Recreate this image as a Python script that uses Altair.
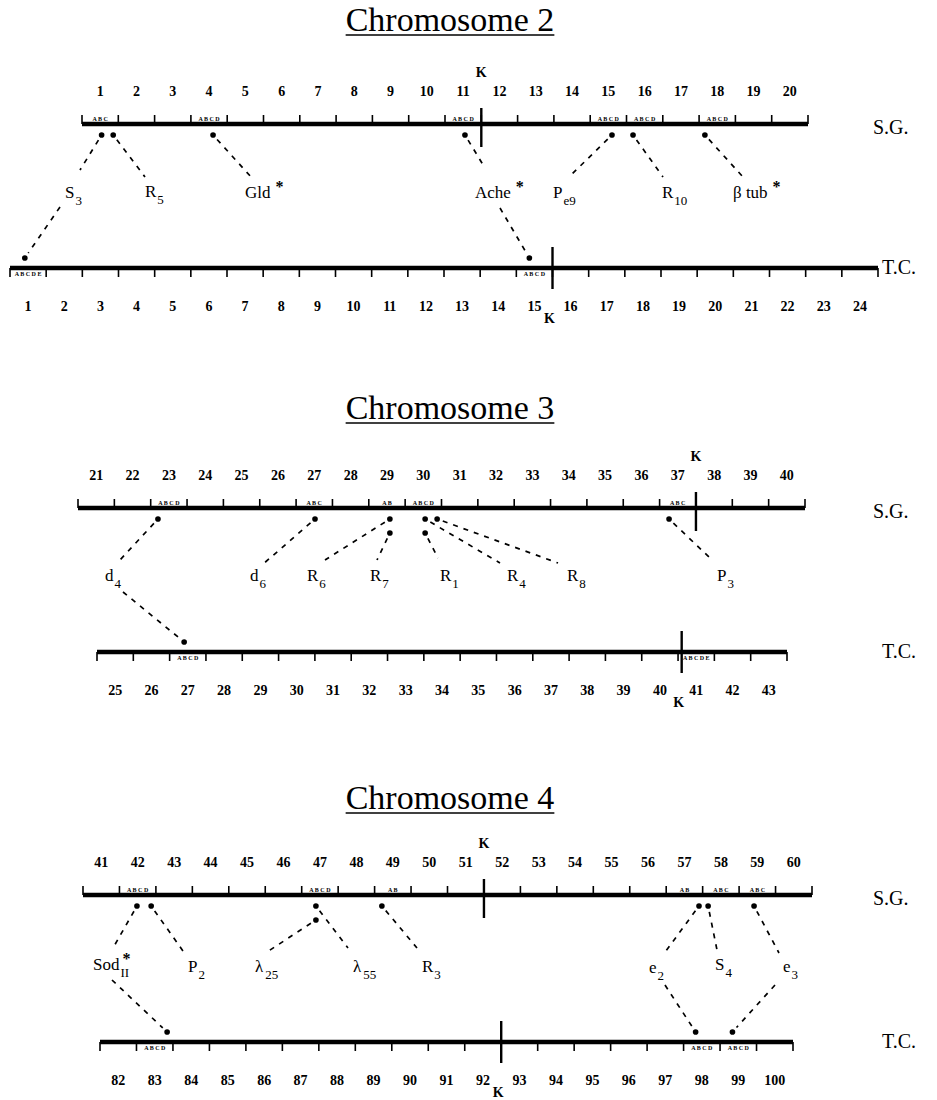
import math
import altair as alt
import pandas as pd

W, H = 937, 1100
SERIF = "Liberation Serif"

# ---------------- map rows (S.G. = salivary gland, T.C. = trichogen cell) ----
row_chrom = ["2", "2", "3", "3", "4", "4"]
row_kind = ["S.G.", "T.C.", "S.G.", "T.C.", "S.G.", "T.C."]
row_first = [1, 1, 21, 25, 41, 82]
row_last = [20, 24, 40, 43, 60, 100]
row_centromere = [12.0, 16.0, 38.0, 41.1, 52.0, 93.0]

# drawing layout of each row (page pixels)
row_x0 = [82, 10, 78, 97, 83, 100]
row_x1 = [808, 878, 805, 787, 812, 793]
row_y = [124, 268, 508, 652, 895, 1042]
title_y = [31, 419, 809]

# ---------------- subdivided bands ----------------
band_row = [0, 0, 0, 0, 0, 0, 1, 1, 2, 2, 2, 2, 2, 3, 3, 4, 4, 4, 4, 4, 4, 5, 5, 5]
band_div = [1, 4, 11, 15, 16, 18, 1, 15, 23, 27, 29, 30, 37, 27, 41,
            42, 47, 49, 57, 58, 59, 83, 98, 99]
band_text = ["ABC", "ABCD", "ABCD", "ABCD", "ABCD", "ABCD", "ABCDE", "ABCD",
             "ABCD", "ABC", "AB", "ABCD", "ABC", "ABCD", "ABCDE",
             "ABCD", "ABCD", "AB", "AB", "ABC", "ABC", "ABCD", "ABCD", "ABCD"]

# ---------------- loci ----------------
locus_main = ["S", "R", "Gld", "Ache", "P", "R", "β tub",
              "d", "d", "R", "R", "R", "R", "R", "P",
              "Sod", "P", "λ", "λ", "R", "e", "S", "e"]
locus_sub = ["3", "5", "", "", "e9", "10", "",
             "4", "6", "6", "7", "1", "4", "8", "3",
             "II", "2", "25", "55", "3", "2", "4", "3"]
locus_star = [0, 0, 1, 1, 0, 0, 1,
              0, 0, 0, 0, 0, 0, 0, 0,
              2, 0, 0, 0, 0, 0, 0, 0]
locus_sg_row = [0] * 7 + [2] * 8 + [4] * 8
locus_sg_pos = [1.54, 1.86, 4.61, 11.55, 15.6, 16.18, 18.16,
                23.2, 27.52, 29.58, 29.58, 30.55, 30.55, 30.88, 37.26,
                42.48, 42.87, 47.39, 47.39, 49.2, 57.9, 58.15, 59.41]
locus_sg_level = [0, 0, 0, 0, 0, 0, 0,
                  0, 0, 0, 1, 1, 0, 0, 0,
                  0, 0, 1, 0, 0, 0, 0, 0]
locus_tc_row = [1, None, None, 1, None, None, None,
                3, None, None, None, None, None, None, None,
                5, None, None, None, None, 5, None, 5]
locus_tc_pos = [1.41, None, None, 15.36, None, None, None,
                27.4, None, None, None, None, None, None, None,
                83.84, None, None, None, None, 98.33, None, 99.34]

# label layout: left edge / centre line of text, end of upper leader, start of lower leader
label_x = [65, 145, 245, 475, 553, 662, 733,
           105, 250, 307, 370, 440, 507, 567, 717,
           93, 188, 255, 353, 422, 649, 715, 783]
label_y = [193, 192, 193, 193, 193, 193, 193,
           576, 576, 576, 576, 576, 576, 576, 576,
           965, 967, 967, 967, 967, 968, 965, 967]
lead_top = [(80, 170), (145, 177), (252, 178), (485, 168), (570, 176), (663, 177), (743, 177),
            (120, 560), (262, 565), (325, 560), (377, 560), (438, 558), (500, 563), (558, 563), (710, 558),
            (113, 948), (183, 951), (267, 952), (348, 948), (417, 948), (663, 955), (717, 950), (779, 953)]
lead_bottom = [(60, 207), None, None, (500, 208), None, None, None,
               (123, 592), None, None, None, None, None, None, None,
               (112, 980), None, None, None, None, (665, 985), None, (775, 985)]

LABEL_FS, SUB_FS = 17, 13
EM = {"R": .667, "S": .556, "P": .556, "d": .5, "e": .444, "λ": .55, "G": .722,
      "l": .278, "A": .722, "c": .444, "h": .5, "o": .5, "β": .5, "t": .278,
      "u": .5, "b": .5, " ": .25, "I": .333}


def text_w(s, fs):
    return sum(EM.get(ch, .5) for ch in s) * fs


def row_px(r, pos):
    n = row_last[r] - row_first[r] + 1
    return row_x0[r] + (pos - row_first[r]) * (row_x1[r] - row_x0[r]) / n


def div_w(r):
    return (row_x1[r] - row_x0[r]) / (row_last[r] - row_first[r] + 1)


# ---------------- tables ----------------
bars, ticks, nums, cen, klab, rlab = [], [], [], [], [], []
for r in range(6):
    y = row_y[r]
    sg = row_kind[r] == "S.G."
    bars.append({"x": row_x0[r], "x2": row_x1[r], "y": y})
    n = row_last[r] - row_first[r] + 1
    for i in range(n + 1):
        x = row_x0[r] + i * div_w(r)
        ticks.append({"x": x, "y": y, "y2": y - 9 if sg else y + 9})
    for i in range(n):
        nums.append({"x": row_x0[r] + (i + .5) * div_w(r),
                     "y": y - 32 if sg else y + 39,
                     "t": str(row_first[r] + i)})
    kx = row_px(r, row_centromere[r])
    cen.append({"x": kx, "y": y - 16 if sg else y - 21, "y2": y + 23 if sg else y + 21})
    klab.append({"x": kx if sg else kx - 3, "y": y - 51 if sg else y + 51, "t": "K"})
    rlab.append({"x": 873 if sg else 882, "y": y + 4 if sg else y, "t": row_kind[r]})

bands = []
for r, d, t in zip(band_row, band_div, band_text):
    sg = row_kind[r] == "S.G."
    bands.append({"x": row_px(r, d + .5), "y": row_y[r] - 5 if sg else row_y[r] + 6,
                  "t": " ".join(t)})

dots, leads, mains, subs, stars = [], [], [], [], []


def leader(p, q, gap_start=6, gap_end=0):
    dx, dy = q[0] - p[0], q[1] - p[1]
    L = math.hypot(dx, dy)
    ux, uy = dx / L, dy / L
    return {"x": p[0] + ux * gap_start, "y": p[1] + uy * gap_start,
            "x2": q[0] - ux * gap_end, "y2": q[1] - uy * gap_end}


for i in range(len(locus_main)):
    r = locus_sg_row[i]
    dxp = row_px(r, locus_sg_pos[i])
    dyp = row_y[r] + 11 + 14 * locus_sg_level[i]
    dots.append({"x": dxp, "y": dyp})
    leads.append(leader((dxp, dyp), lead_top[i]))
    lx, ly = label_x[i], label_y[i]
    mains.append({"x": lx, "y": ly, "t": locus_main[i]})
    mw = text_w(locus_main[i], LABEL_FS)
    if locus_sub[i]:
        subs.append({"x": lx + mw + 1, "y": ly + 8, "t": locus_sub[i]})
    if locus_star[i] == 1:
        stars.append({"x": lx + mw + 9, "y": ly - 6})
    elif locus_star[i] == 2:
        stars.append({"x": lx + mw + 7, "y": ly - 6})
    if locus_tc_row[i] is not None:
        tr = locus_tc_row[i]
        tx = row_px(tr, locus_tc_pos[i])
        ty = row_y[tr] - 10
        dots.append({"x": tx, "y": ty})
        leads.append(leader(lead_bottom[i], (tx, ty), gap_start=0, gap_end=6))

titles = [{"x": 450, "y": ty, "t": f"Chromosome {c}"} for ty, c in zip(title_y, ["2", "3", "4"])]
TITLE_FS = 34
tw = 6.139 * TITLE_FS
underlines = [{"x": 450 - tw / 2, "x2": 450 + tw / 2, "y": ty + 4} for ty in title_y]

# ---------------- chart ----------------
xs = alt.Scale(domain=[0, W], nice=False, zero=False)
ys = alt.Scale(domain=[0, H], nice=False, zero=False, reverse=True)
X = lambda f="x": alt.X(f"{f}:Q", scale=xs, axis=None)
Y = lambda f="y": alt.Y(f"{f}:Q", scale=ys, axis=None)


def D(rows):
    return alt.Data(values=rows)


layers = [
    alt.Chart(D(bars)).mark_rule(strokeWidth=4.5, color="black")
    .encode(x=X(), x2="x2:Q", y=Y()),
    alt.Chart(D(ticks)).mark_rule(strokeWidth=1.6, color="black")
    .encode(x=X(), y=Y(), y2="y2:Q"),
    alt.Chart(D(cen)).mark_rule(strokeWidth=2.4, color="black")
    .encode(x=X(), y=Y(), y2="y2:Q"),
    alt.Chart(D(nums)).mark_text(font=SERIF, fontSize=14, fontWeight="bold", baseline="middle")
    .encode(x=X(), y=Y(), text="t:N"),
    alt.Chart(D(klab)).mark_text(font=SERIF, fontSize=14, fontWeight="bold", baseline="middle")
    .encode(x=X(), y=Y(), text="t:N"),
    alt.Chart(D(bands)).mark_text(font=SERIF, fontSize=6, fontWeight="bold", baseline="middle")
    .encode(x=X(), y=Y(), text="t:N"),
    alt.Chart(D(rlab)).mark_text(font=SERIF, fontSize=20, align="left", baseline="middle")
    .encode(x=X(), y=Y(), text="t:N"),
    alt.Chart(D(leads)).mark_rule(strokeWidth=1.7, strokeDash=[5, 6], color="black")
    .encode(x=X(), y=Y(), x2="x2:Q", y2="y2:Q"),
    alt.Chart(D(dots)).mark_circle(size=32, color="black", opacity=1)
    .encode(x=X(), y=Y()),
    alt.Chart(D(mains)).mark_text(font=SERIF, fontSize=LABEL_FS, align="left", baseline="middle")
    .encode(x=X(), y=Y(), text="t:N"),
    alt.Chart(D(subs)).mark_text(font=SERIF, fontSize=SUB_FS, align="left", baseline="middle")
    .encode(x=X(), y=Y(), text="t:N"),
    alt.Chart(D(stars)).mark_text(font=SERIF, fontSize=16, fontWeight="bold", baseline="middle", text="*")
    .encode(x=X(), y=Y()),
    alt.Chart(D(titles)).mark_text(font=SERIF, fontSize=TITLE_FS, baseline="alphabetic")
    .encode(x=X(), y=Y(), text="t:N"),
    alt.Chart(D(underlines)).mark_rule(strokeWidth=1.5, color="black")
    .encode(x=X(), x2="x2:Q", y=Y()),
]

chart = (
    alt.layer(*layers)
    .properties(width=W, height=H, padding=0, autosize=alt.AutoSizeParams(type="none"),
                background="white")
    .configure_view(stroke=None)
)

chart.save("out.html", embed_options={"renderer": "svg", "actions": False})
